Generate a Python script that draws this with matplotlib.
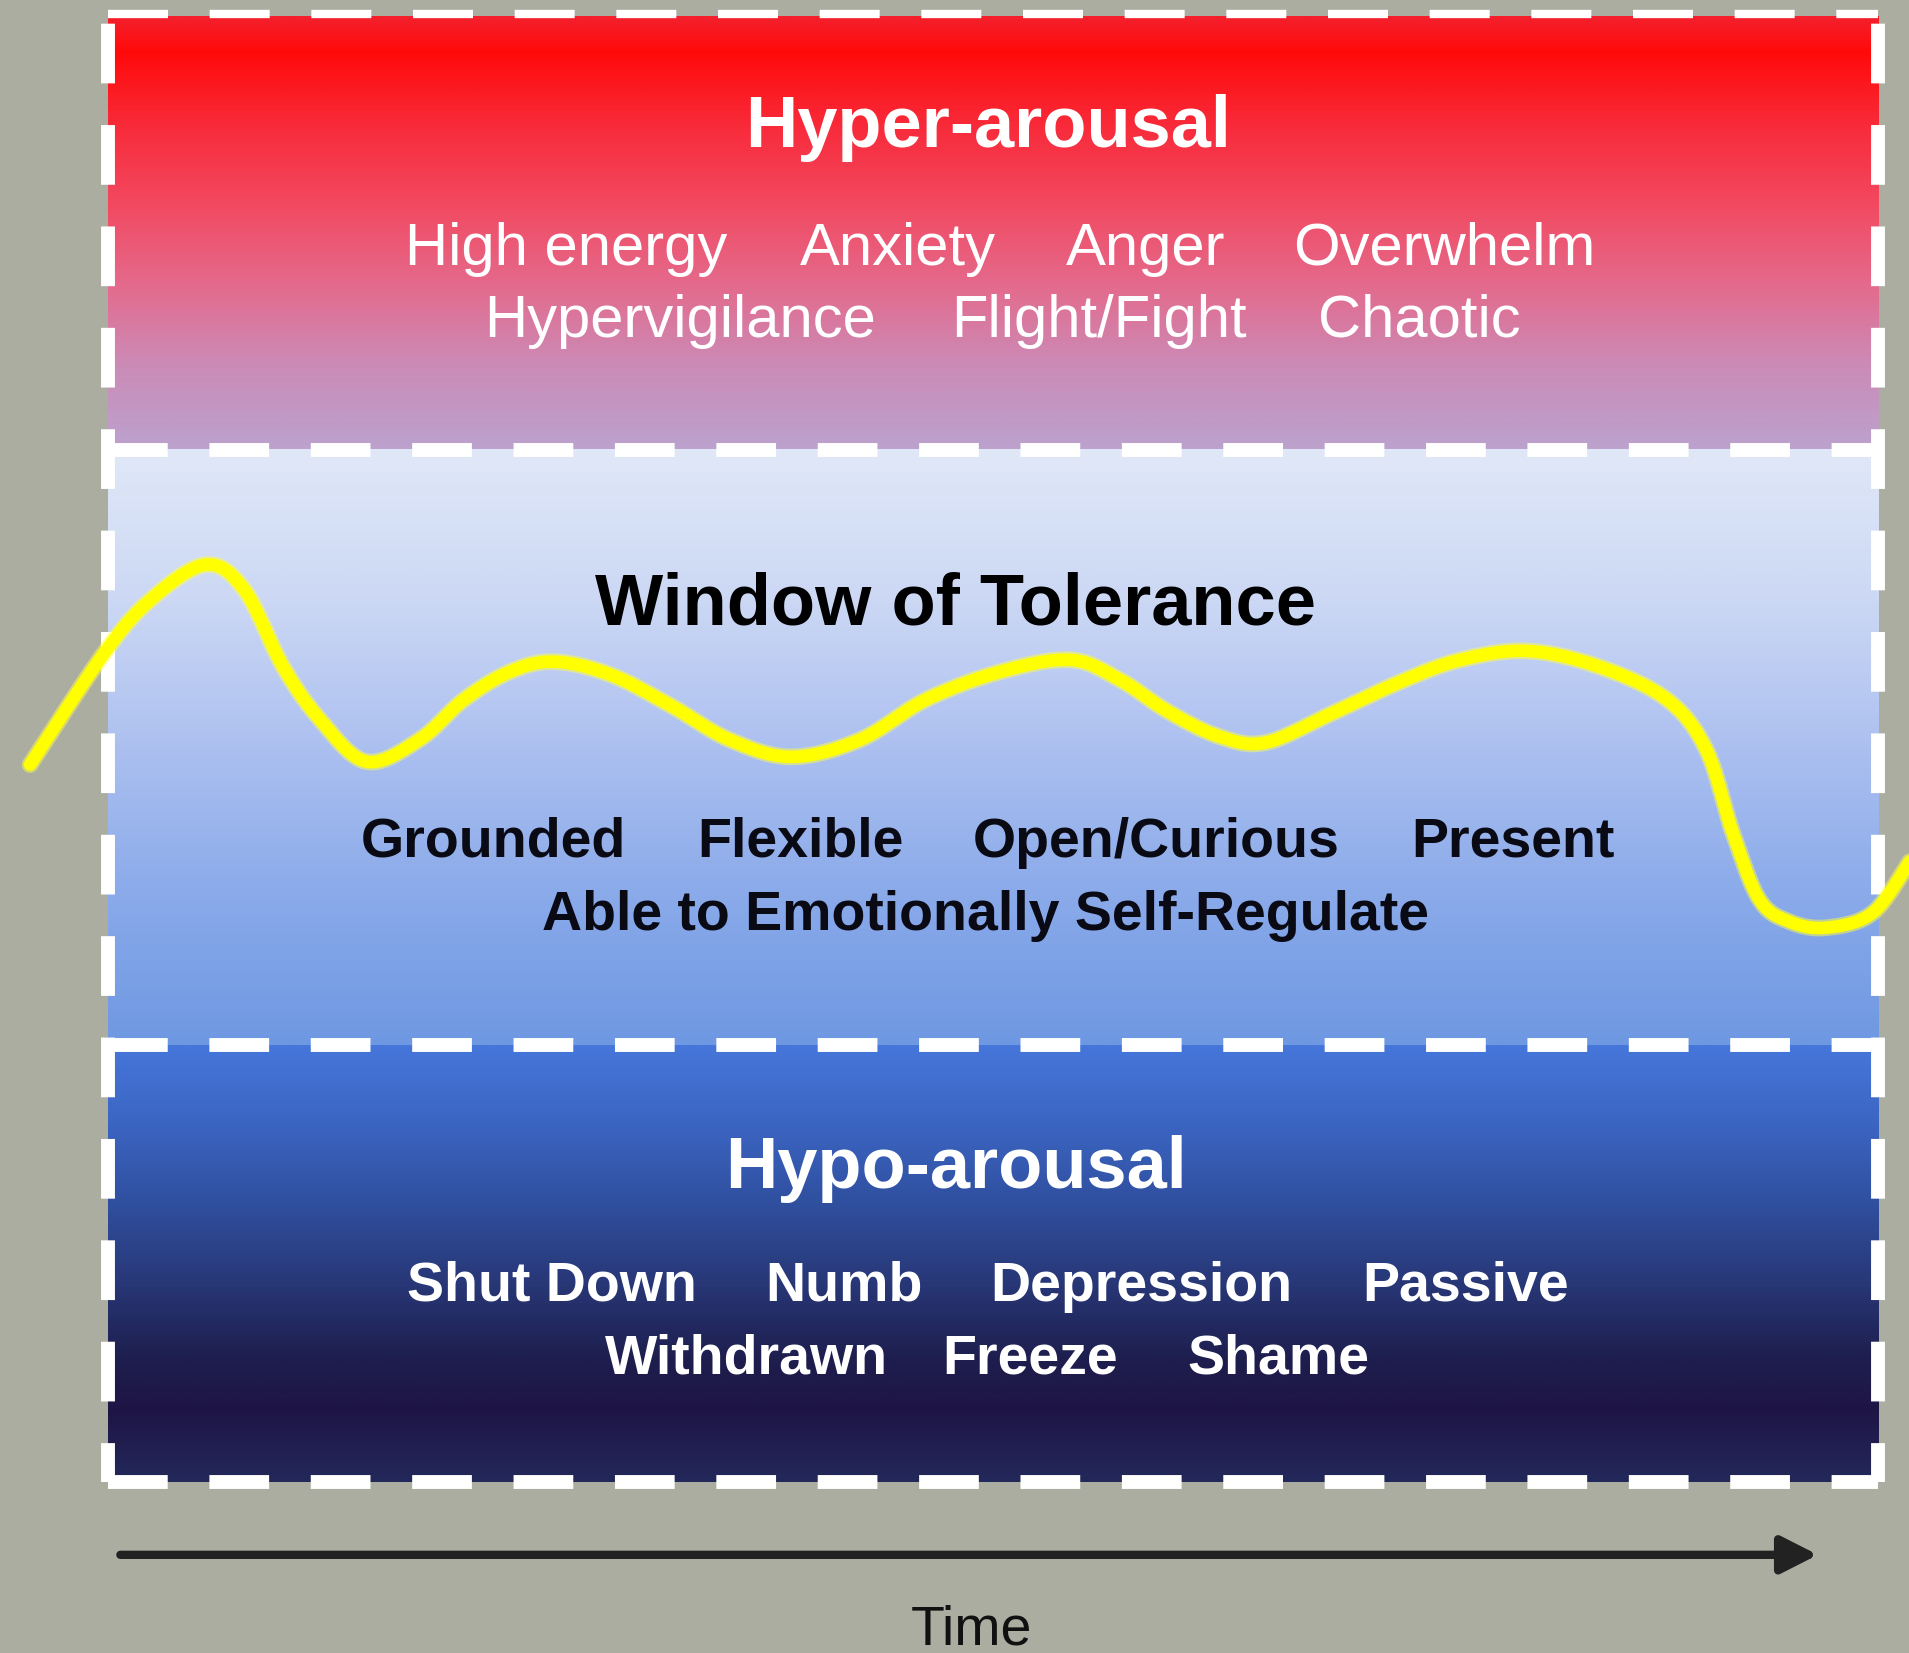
import numpy as np
import matplotlib.pyplot as plt
from matplotlib.colors import LinearSegmentedColormap

# yellow arousal line: time (box spans 0..100) vs arousal (window of tolerance = 0..1)
time_pts = [-4.4, -0.2, 2.4, 5.5, 7.7, 9.9, 12.0, 14.6, 17.6, 20.1, 22.7, 25.2, 28.4,
            31.8, 35.1, 38.6, 42.5, 46.2, 50.4, 54.4, 57.2, 59.9, 62.8, 65.4, 69.0,
            73.0, 76.4, 80.2, 84.3, 88.1, 90.3, 91.8, 93.3, 95.0, 97.1, 99.7, 101.8]
arousal_pts = [0.471, 0.659, 0.748, 0.807, 0.765, 0.635, 0.546, 0.476, 0.513, 0.580,
               0.627, 0.644, 0.622, 0.570, 0.513, 0.484, 0.513, 0.580, 0.627, 0.647,
               0.613, 0.560, 0.518, 0.508, 0.555, 0.610, 0.647, 0.662, 0.635, 0.580,
               0.496, 0.356, 0.244, 0.207, 0.197, 0.222, 0.308]

hyper_title = "Hyper-arousal"
hyper_row1 = ["High energy", "Anxiety", "Anger", "Overwhelm"]
hyper_row2 = ["Hypervigilance", "Flight/Fight", "Chaotic"]
window_title = "Window of Tolerance"
window_row1 = ["Grounded", "Flexible", "Open/Curious", "Present"]
window_row2 = ["Able to Emotionally Self-Regulate"]
hypo_title = "Hypo-arousal"
hypo_row1 = ["Shut Down", "Numb", "Depression", "Passive"]
hypo_row2 = ["Withdrawn", "Freeze", "Shame"]
x_label = "Time"

# layout (x positions of the words, baselines of rows)
hyper_x1 = [25.9, 44.6, 58.6, 75.5]
hyper_x2 = [32.3, 56.0, 74.1]
window_x1 = [21.8, 39.1, 59.2, 79.4]
window_x2 = [49.6]
hypo_x1 = [25.1, 41.6, 58.4, 76.7]
hypo_x2 = [36.1, 52.1, 66.1]

BG = "#abada0"
plt.rcParams['font.family'] = ['Liberation Sans', 'DejaVu Sans']

fig = plt.figure(figsize=(19.09, 16.53), dpi=100, facecolor=BG)
ax = fig.add_axes([0, 0, 1, 1])
ax.set_facecolor(BG)
ax.axis('off')

top, mid_hi, mid_lo, bottom = 1.728, 1.0, 0.0, -0.734


def band(y0, y1, stops):  # vertical gradient, stops from top to bottom
    cmap = LinearSegmentedColormap.from_list('band', stops)
    grad = np.linspace(0, 1, 400).reshape(-1, 1)
    ax.imshow(grad, cmap=cmap, extent=(0, 100, y0, y1), aspect='auto',
              origin='upper', zorder=1, interpolation='bilinear')


def smooth(xs, ys, n=20):  # catmull-rom through the read points, only for drawing
    p = np.column_stack([xs, ys]) * [1.0, 60.0]
    p = np.vstack([p[0], p, p[-1]])
    out = []
    t = np.linspace(0, 1, n, endpoint=False)[:, None]
    for i in range(1, len(p) - 2):
        p0, p1, p2, p3 = p[i - 1], p[i], p[i + 1], p[i + 2]
        seg = 0.5 * (2 * p1 + (-p0 + p2) * t + (2 * p0 - 5 * p1 + 4 * p2 - p3) * t ** 2
                     + (-p0 + 3 * p1 - 3 * p2 + p3) * t ** 3)
        out.append(seg)
    out.append(p[-2][None, :])
    out = np.vstack(out) / [1.0, 60.0]
    return out[:, 0], out[:, 1]


band(mid_hi, top, [(0, '#f4202c'), (0.08, '#ff0a0a'), (0.26, '#f82c3c'),
                   (0.44, '#f24a62'), (0.62, '#e46a8c'), (0.8, '#cc8ab6'),
                   (1, '#bca2ce')])
band(mid_lo, mid_hi, [(0, '#e0e8f8'), (0.25, '#ccd8f4'), (0.5, '#acc0f0'),
                      (0.75, '#8aaaea'), (1, '#6e98e2')])
band(bottom, mid_lo, [(0, '#4676da'), (0.17, '#3c66c4'), (0.355, '#3050a0'),
                      (0.54, '#283878'), (0.72, '#1e1e4e'), (0.835, '#1e1545'),
                      (1, '#23285a')])

# white dashed borders
lw = 10
dash = (0, (4.3, 3.0))
for y in (mid_hi, mid_lo, bottom):
    ax.plot([0, 100], [y, y], color='white', lw=lw, ls=dash,
            dash_capstyle='butt', zorder=3)
ax.plot([0, 100], [top + 0.005, top + 0.005], color='white', lw=6,
        ls=(0, (7.2, 5.0)), dash_capstyle='butt', zorder=3)
for x in (0, 100):
    ax.plot([x, x], [bottom, top], color='white', lw=lw, ls=(1.5, (4.3, 3.0)),
            dash_capstyle='butt', zorder=3)

# yellow line
sx, sy = smooth(time_pts, arousal_pts)
ax.plot(sx, sy, color='#ffff40', lw=12, alpha=0.5,
        solid_capstyle='round', solid_joinstyle='round', zorder=4)
ax.plot(sx, sy, color='#ffff00', lw=9,
        solid_capstyle='round', solid_joinstyle='round', zorder=5)

# texts
ax.text(49.7, 1.509, hyper_title, color='white', fontsize=52, fontweight='bold',
        ha='center', va='baseline', zorder=6)
for w, x in zip(hyper_row1, hyper_x1):
    ax.text(x, 1.311, w, color='white', fontsize=43, ha='center', va='baseline', zorder=6)
for w, x in zip(hyper_row2, hyper_x2):
    ax.text(x, 1.190, w, color='white', fontsize=43, ha='center', va='baseline', zorder=6)

ax.text(47.9, 0.706, window_title, color='black', fontsize=52, fontweight='bold',
        ha='center', va='baseline', zorder=6)
for w, x in zip(window_row1, window_x1):
    ax.text(x, 0.316, w, color='#0a0a14', fontsize=40, fontweight='bold',
            ha='center', va='baseline', zorder=6)
for w, x in zip(window_row2, window_x2):
    ax.text(x, 0.193, w, color='#0a0a14', fontsize=40, fontweight='bold',
            ha='center', va='baseline', zorder=6)

ax.text(47.9, -0.240, hypo_title, color='white', fontsize=52, fontweight='bold',
        ha='center', va='baseline', zorder=6)
for w, x in zip(hypo_row1, hypo_x1):
    ax.text(x, -0.430, w, color='white', fontsize=40, fontweight='bold',
            ha='center', va='baseline', zorder=6)
for w, x in zip(hypo_row2, hypo_x2):
    ax.text(x, -0.553, w, color='white', fontsize=40, fontweight='bold',
            ha='center', va='baseline', zorder=6)

# time arrow
ax.annotate('', xy=(96.6, -0.857), xytext=(0.7, -0.857),
            arrowprops=dict(arrowstyle='-|>,head_length=0.55,head_width=0.28',
                            mutation_scale=40, lw=6, color='#222222',
                            shrinkA=0, shrinkB=0), zorder=6)
ax.text(48.8, -1.008, x_label, color='#111111', fontsize=40, ha='center',
        va='baseline', zorder=6)

ax.set_xlim(-6.10, 101.75)
ax.set_ylim(-1.022, 1.756)

fig.savefig('out.png', dpi=100, facecolor=BG)
